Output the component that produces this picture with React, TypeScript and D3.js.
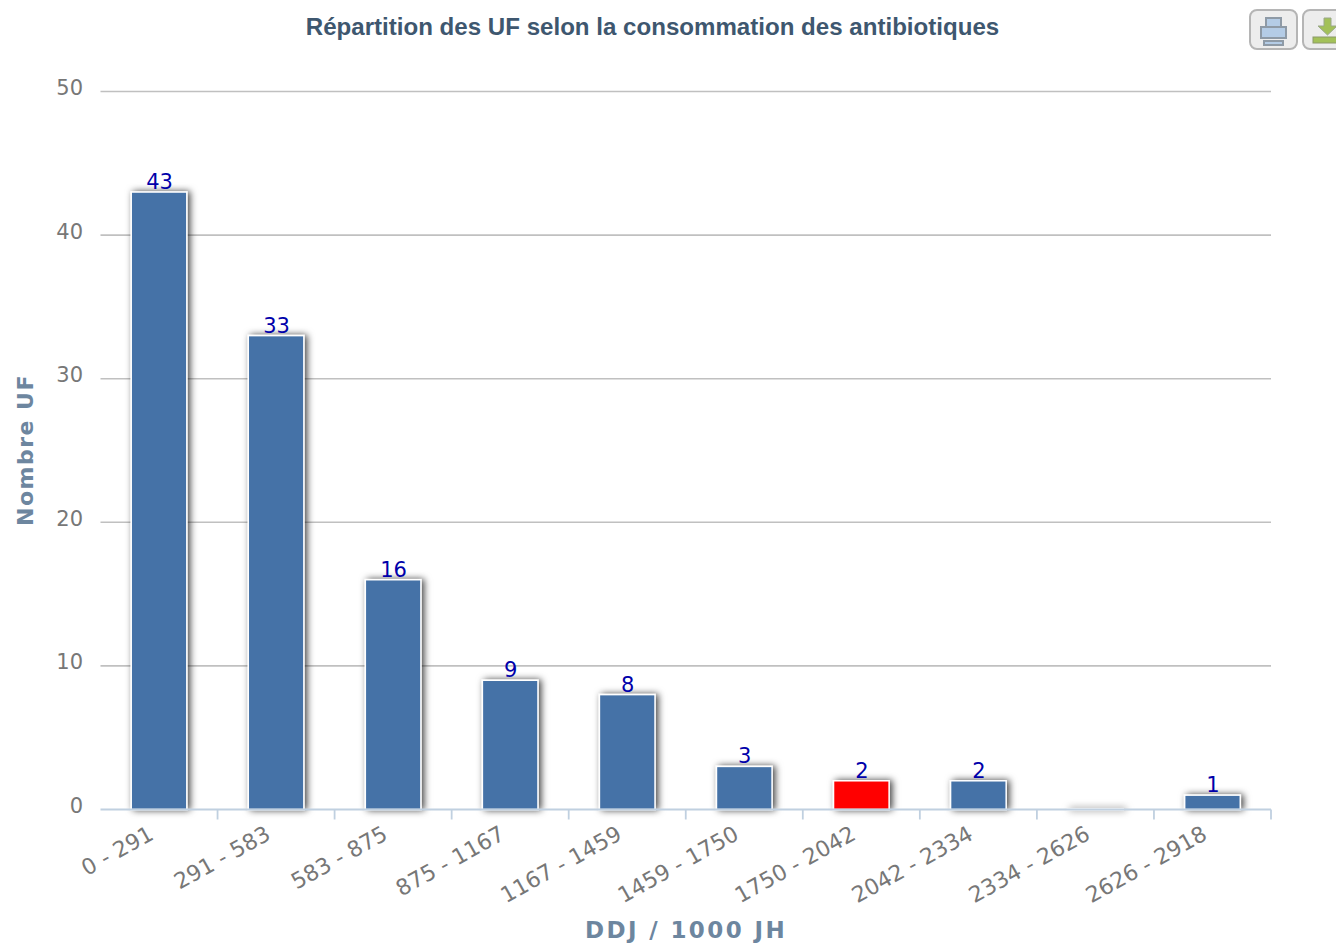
import React, { useEffect, useRef } from "react";
import * as d3 from "d3";

const categories = [
  "0 - 291",
  "291 - 583",
  "583 - 875",
  "875 - 1167",
  "1167 - 1459",
  "1459 - 1750",
  "1750 - 2042",
  "2042 - 2334",
  "2334 - 2626",
  "2626 - 2918",
];
const counts = [43, 33, 16, 9, 8, 3, 2, 2, 0, 1];
const highlighted = "1750 - 2042";
const yTicks = [0, 10, 20, 30, 40, 50];

const title = "Répartition des UF selon la consommation des antibiotiques";
const xTitle = "DDJ / 1000 JH";
const yTitle = "Nombre UF";

const W = 1336;
const H = 944;
const margin = { top: 91.5, right: 65, bottom: 134.5, left: 100.5 };

const App: React.FC = () => {
  const ref = useRef<SVGSVGElement>(null);

  useEffect(() => {
    if (!ref.current) return;
    const root = d3.select(ref.current);
    root.selectAll("*").remove();

    const width = W - margin.left - margin.right;
    const height = H - margin.top - margin.bottom;

    const shadow = root
      .append("defs")
      .append("filter")
      .attr("id", "barShadow")
      .attr("x", "-10%")
      .attr("y", "-10%")
      .attr("width", "120%")
      .attr("height", "120%");
    shadow
      .append("feDropShadow")
      .attr("dx", 2.5)
      .attr("dy", 0)
      .attr("stdDeviation", 3.5)
      .attr("flood-color", "#000")
      .attr("flood-opacity", 0.75);

    // main title
    root
      .append("text")
      .attr("x", 652.5)
      .attr("y", 35)
      .attr("text-anchor", "middle")
      .attr("font-family", "Liberation Sans")
      .attr("font-weight", "bold")
      .attr("font-size", 24.1)
      .attr("fill", "#3E576F")
      .text(title);

    const svg = root
      .append("g")
      .attr("transform", `translate(${margin.left},${margin.top})`);

    const x = d3.scaleBand<string>().domain(categories).range([0, width]);
    const y = d3.scaleLinear().domain([0, 50]).range([height, 0]);

    // grid lines
    svg
      .selectAll("line.grid")
      .data(yTicks.filter((d) => d > 0))
      .join("line")
      .attr("class", "grid")
      .attr("x1", 0)
      .attr("x2", width)
      .attr("y1", (d) => y(d))
      .attr("y2", (d) => y(d))
      .attr("stroke", "#C0C0C0")
      .attr("stroke-width", 1.6);

    // y labels
    svg
      .selectAll("text.ytick")
      .data(yTicks)
      .join("text")
      .attr("class", "ytick")
      .attr("x", -17.5)
      .attr("y", (d) => y(d) + 3.5)
      .attr("text-anchor", "end")
      .attr("font-family", "DejaVu Sans")
      .attr("font-size", 21)
      .attr("fill", "#777777")
      .text((d) => d);

    // bars, the empty class keeps a sliver so its faint shadow still shows
    const barWidth = x.bandwidth() * 0.475;
    svg
      .append("g")
      .attr("filter", "url(#barShadow)")
      .selectAll("rect.bar")
      .data(categories)
      .join("rect")
      .attr("class", "bar")
      .attr("x", (d) => (x(d) as number) + (x.bandwidth() - barWidth) / 2)
      .attr("y", (_, i) => Math.min(y(counts[i]), height - 0.5))
      .attr("width", barWidth)
      .attr("height", (_, i) => Math.max(height - y(counts[i]), 0.5))
      .attr("fill", (d, i) =>
        counts[i] === 0 ? "#FFFFFF" : d === highlighted ? "#FF0000" : "#4572A7"
      )
      .attr("stroke", "#FFFFFF")
      .attr("stroke-width", 1.5);

    // bar value labels, nothing is printed for an empty class
    svg
      .selectAll("text.value")
      .data(categories)
      .join("text")
      .attr("class", "value")
      .attr("x", (d) => (x(d) as number) + x.bandwidth() / 2 + 0.5)
      .attr("y", (_, i) => y(counts[i]) - 3)
      .attr("text-anchor", "middle")
      .attr("font-family", "DejaVu Sans")
      .attr("font-size", 21)
      .attr("fill", "#0000AA")
      .text((_, i) => (counts[i] > 0 ? counts[i] : ""));

    // x axis
    const axis = svg.append("g").attr("transform", `translate(0,${height})`);
    axis
      .append("line")
      .attr("x1", 0)
      .attr("x2", width)
      .attr("stroke", "#C0D0E0")
      .attr("stroke-width", 1.8);
    axis
      .selectAll("line.tick")
      .data(categories)
      .join("line")
      .attr("class", "tick")
      .attr("x1", (d) => (x(d) as number) + x.bandwidth())
      .attr("x2", (d) => (x(d) as number) + x.bandwidth())
      .attr("y1", 0)
      .attr("y2", 10)
      .attr("stroke", "#C0D0E0")
      .attr("stroke-width", 1.8);
    axis
      .selectAll("text.cat")
      .data(categories)
      .join("text")
      .attr("class", "cat")
      .attr(
        "transform",
        (d) =>
          `translate(${(x(d) as number) + x.bandwidth() / 2 - 4},${29}) rotate(-29)`
      )
      .attr("text-anchor", "end")
      .attr("font-family", "DejaVu Sans")
      .attr("font-size", 22)
      .attr("fill", "#777777")
      .text((d) => d);

    // axis titles
    root
      .append("text")
      .attr("x", 686)
      .attr("y", 938)
      .attr("text-anchor", "middle")
      .attr("font-family", "DejaVu Sans")
      .attr("font-weight", "bold")
      .attr("font-size", 23)
      .attr("letter-spacing", 2.4)
      .attr("fill", "#6D869F")
      .text(xTitle);
    root
      .append("text")
      .attr("transform", "translate(33,450) rotate(-90)")
      .attr("text-anchor", "middle")
      .attr("font-family", "DejaVu Sans")
      .attr("font-weight", "bold")
      .attr("font-size", 22)
      .attr("letter-spacing", 1.5)
      .attr("fill", "#6D869F")
      .text(yTitle);

    // export buttons
    const button = (left: number) => {
      const g = root.append("g").attr("transform", `translate(${left},10)`);
      g.append("rect")
        .attr("width", 47)
        .attr("height", 39)
        .attr("rx", 7)
        .attr("fill", "#EDEDED")
        .attr("stroke", "#B5B5B5")
        .attr("stroke-width", 2);
      return g;
    };

    const printBtn = button(1250);
    const printParts = [
      { x: 16, y: 8, width: 15, height: 9 },
      { x: 11, y: 17, width: 25, height: 11 },
      { x: 14, y: 31, width: 19, height: 4 },
    ];
    printBtn
      .selectAll("rect.part")
      .data(printParts)
      .join("rect")
      .attr("class", "part")
      .attr("x", (d) => d.x)
      .attr("y", (d) => d.y)
      .attr("width", (d) => d.width)
      .attr("height", (d) => d.height)
      .attr("fill", "#B4CCE6")
      .attr("stroke", "#8E9AA6")
      .attr("stroke-width", 2);

    const saveBtn = button(1303);
    saveBtn
      .append("path")
      .attr("d", "M21 8H28V16H34L24.5 25L15 16H21Z")
      .attr("fill", "#A3C159")
      .attr("stroke", "#9AA88A")
      .attr("stroke-width", 1);
    saveBtn
      .append("rect")
      .attr("x", 10)
      .attr("y", 27)
      .attr("width", 30)
      .attr("height", 6)
      .attr("fill", "#A3C159")
      .attr("stroke", "#8C9A6A")
      .attr("stroke-width", 1);
  }, []);

  return (
    <svg
      ref={ref}
      width={W}
      height={H}
      style={{ position: "absolute", left: 0, top: 0, background: "#fff" }}
    />
  );
};

export default App;
